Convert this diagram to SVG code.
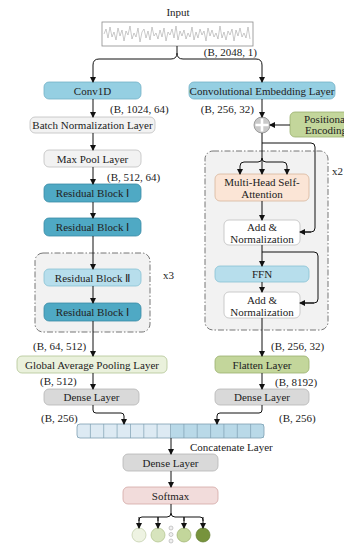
<svg xmlns="http://www.w3.org/2000/svg" width="344" height="544" viewBox="0 0 344 544">
<defs>
<marker id="ah" markerWidth="6" markerHeight="6" refX="5" refY="3" orient="auto" markerUnits="userSpaceOnUse"><path d="M0,0 L6,3 L0,6 Z" fill="#111"/></marker>
<style>
text{font-family:"Liberation Serif","Times New Roman",serif;font-size:11px;fill:#222}
.c{text-anchor:middle}
.e{text-anchor:end}
.n rect{stroke-width:0.8}
.blue{fill:#95CFE2;stroke:#74B1C7}
.light{fill:#F2F2F2;stroke:#BFBFBF}
.teal{fill:#4FA9C4;stroke:#3A8CA6}
.pale{fill:#B7DEEC;stroke:#88C1D4}
.gap{fill:#EAF1DC;stroke:#B3C596}
.green{fill:#C3D69B;stroke:#9AB06E}
.dense{fill:#D9D9D9;stroke:#B5B5B5}
.peach{fill:#FBE5D6;stroke:#D8B69C}
.white{fill:#FFFFFF;stroke:#BFBFBF}
.pink{fill:#F2DCDB;stroke:#D3A7A5}
.dash{fill:#F2F2F2;stroke:#666;stroke-width:0.9;stroke-dasharray:6 2 1.5 2}
#conn path,#conn line{fill:none;stroke:#111;stroke-width:1}
.arr{marker-end:url(#ah)}
</style>
</defs>
<rect width="344" height="544" fill="#fff"/>

<!-- dashed repeat boxes -->
<g id="repeat3"><rect class="dash" x="35" y="253" width="115" height="79" rx="8"/><text x="163" y="279">x3</text></g>
<g id="repeat2"><rect class="dash" x="205" y="151" width="123" height="179" rx="8"/><text x="332" y="175">x2</text></g>

<g id="input">
<text class="c" x="178" y="16">Input</text>
<rect x="102" y="22" width="151" height="24" fill="#fff" stroke="#8C8C8C" stroke-width="0.8"/>
<polyline fill="none" stroke="#A6A6A6" stroke-width="0.6" points="104,34 106,29 108,38 110,27 112,37 114,32 116,40 118,28 120,36 122,30 124,41 126,31 128,35 130,26 132,39 134,33 136,37 138,28 140,42 142,32 144,29 146,38 148,31 150,40 152,27 154,36 156,33 158,39 160,30 162,37 164,28 166,41 168,32 170,35 172,29 174,38 176,26 178,40 180,31 182,36 184,30 186,39 188,33 190,37 192,27 194,40 196,32 198,38 200,29 202,35 204,31 206,41 208,28 210,36 212,30 214,37 216,33 218,39 220,26 222,38 224,32 226,40 228,31 230,35 232,29 234,41 236,30 238,36 240,28 242,37 244,33 246,38 248,27 250,39"/>
</g>

<g id="conv1d" class="n"><rect class="blue" x="44" y="82" width="97" height="17" rx="5"/><text class="c" x="92.5" y="94.5">Conv1D</text></g>
<g id="convemb" class="n"><rect class="blue" x="189" y="82" width="146" height="17" rx="5"/><text class="c" x="262" y="94.5">Convolutional Embedding Layer</text></g>
<g id="bn" class="n"><rect class="light" x="30" y="117" width="125" height="16" rx="5"/><text class="c" x="92.5" y="129">Batch Normalization Layer</text></g>
<g id="maxpool" class="n"><rect class="light" x="44" y="150" width="97" height="17" rx="5"/><text class="c" x="92.5" y="162.5">Max Pool Layer</text></g>
<g id="rb1a" class="n"><rect class="teal" x="44" y="184" width="97" height="18" rx="5"/><text class="c" x="92.5" y="197">Residual Block Ⅰ</text></g>
<g id="rb1b" class="n"><rect class="teal" x="44" y="218" width="97" height="18" rx="5"/><text class="c" x="92.5" y="231">Residual Block Ⅰ</text></g>
<g id="rb2" class="n"><rect class="pale" x="44" y="269" width="97" height="17" rx="5"/><text class="c" x="92.5" y="281.5">Residual Block Ⅱ</text></g>
<g id="rb1c" class="n"><rect class="teal" x="44" y="303" width="97" height="18" rx="5"/><text class="c" x="92.5" y="316">Residual Block Ⅰ</text></g>
<g id="gap" class="n"><rect class="gap" x="17" y="356" width="150" height="17" rx="5"/><text class="c" x="92" y="368.5">Global Average Pooling Layer</text></g>
<g id="denseL" class="n"><rect class="dense" x="44" y="389" width="95" height="16" rx="5"/><text class="c" x="91.5" y="401">Dense Layer</text></g>

<g id="plus"><circle cx="262" cy="125" r="8" fill="#C9C9C9" stroke="#8C8C8C" stroke-width="0.8"/><path d="M262,118.5 V131.5 M255.5,125 H268.5" stroke="#fff" stroke-width="2.6"/></g>
<g id="posenc" class="n"><rect class="green" x="290" y="112" width="72" height="25" rx="5"/><text class="c" x="326" y="122.5">Positional</text><text class="c" x="326" y="134">Encoding</text></g>
<g id="mhsa" class="n"><rect class="peach" x="215" y="174" width="94" height="27" rx="5"/><text class="c" x="262" y="186">Multi-Head Self-</text><text class="c" x="262" y="198">Attention</text></g>
<g id="addnorm1" class="n"><rect class="white" x="224" y="220" width="76" height="25" rx="5"/><text class="c" x="262" y="231">Add &amp;</text><text class="c" x="262" y="243">Normalization</text></g>
<g id="ffn" class="n"><rect class="pale" x="215" y="266" width="94" height="16" rx="5"/><text class="c" x="262" y="278">FFN</text></g>
<g id="addnorm2" class="n"><rect class="white" x="224" y="292" width="76" height="26" rx="5"/><text class="c" x="262" y="304">Add &amp;</text><text class="c" x="262" y="316">Normalization</text></g>
<g id="flatten" class="n"><rect class="green" x="215" y="356" width="94" height="17" rx="5"/><text class="c" x="262" y="368.5">Flatten Layer</text></g>
<g id="denseR" class="n"><rect class="dense" x="215" y="389" width="94" height="16" rx="5"/><text class="c" x="262" y="401">Dense Layer</text></g>

<g id="concat">
<rect x="77" y="424" width="93.5" height="14" fill="#DDEAF3"/>
<rect x="170.5" y="424" width="93.5" height="14" fill="#B9D9E8"/>
<path d="M90.4,424V438M103.7,424V438M117.1,424V438M130.5,424V438M143.8,424V438M157.1,424V438M170.5,424V438M183.9,424V438M197.2,424V438M210.6,424V438M223.9,424V438M237.3,424V438M250.6,424V438" stroke="#7E9FB1" stroke-width="0.7"/>
<rect x="77" y="424" width="187" height="14" rx="3" fill="none" stroke="#7E9FB1" stroke-width="0.8"/>
<text x="190" y="451">Concatenate Layer</text>
</g>
<g id="dense3" class="n"><rect class="dense" x="123" y="454" width="95" height="17" rx="5"/><text class="c" x="170.5" y="466.5">Dense Layer</text></g>
<g id="softmax" class="n"><rect class="pink" x="123" y="487" width="95" height="17" rx="5"/><text class="c" x="170.5" y="499.5">Softmax</text></g>
<g id="outputs">
<circle cx="139" cy="535" r="7" fill="#EEF3E2" stroke="#BFCBA6" stroke-width="0.7"/>
<circle cx="158" cy="535" r="7" fill="#D7E4BD" stroke="#AFC28A" stroke-width="0.7"/>
<circle cx="184" cy="535" r="7" fill="#C3D69B" stroke="#9DB26E" stroke-width="0.7"/>
<circle cx="203" cy="535" r="7" fill="#77933C" stroke="#5E7A2C" stroke-width="0.7"/>
<circle cx="171" cy="528" r="2" fill="#F0F0F0" stroke="#AAA" stroke-width="0.6"/>
<circle cx="171" cy="534.5" r="2" fill="#F0F0F0" stroke="#AAA" stroke-width="0.6"/>
<circle cx="171" cy="541" r="2" fill="#F0F0F0" stroke="#AAA" stroke-width="0.6"/>
</g>

<g id="labels">
<text class="e" x="257" y="56">(B, 2048, 1)</text>
<text x="110" y="113">(B, 1024, 64)</text>
<text class="e" x="254" y="113">(B, 256, 32)</text>
<text x="107" y="181">(B, 512, 64)</text>
<text x="33" y="350">(B, 64, 512)</text>
<text x="40" y="385">(B, 512)</text>
<text x="41" y="422">(B, 256)</text>
<text x="279" y="422">(B, 256)</text>
<text x="271" y="350">(B, 256, 32)</text>
<text x="275" y="386">(B, 8192)</text>
</g>

<g id="conn">
<path class="arr" d="M177,46 V53 Q177,59 171,59 H99 Q93,59 93,65 V82"/>
<path class="arr" d="M177,53 Q177,59 183,59 H256 Q262,59 262,65 V82"/>
<line class="arr" x1="93" y1="99" x2="93" y2="117"/>
<line class="arr" x1="93" y1="133" x2="93" y2="150"/>
<line class="arr" x1="93" y1="167" x2="93" y2="184"/>
<line class="arr" x1="93" y1="202" x2="93" y2="218"/>
<line class="arr" x1="93" y1="236" x2="93" y2="269"/>
<line class="arr" x1="93" y1="286" x2="93" y2="303"/>
<line class="arr" x1="93" y1="321" x2="93" y2="356"/>
<line class="arr" x1="93" y1="373" x2="93" y2="389"/>
<path class="arr" d="M93,405 V410 Q93,413 96,413 H121 Q124,413 124,416 V424"/>
<line class="arr" x1="262" y1="99" x2="262" y2="117"/>
<line class="arr" x1="290" y1="125" x2="270" y2="125"/>
<path d="M262,133 V158 M262,143 H311 Q315,143 315,147 V228 Q315,232 311,232 H301"/>
<path class="arr" d="M311,232 H300"/>
<path class="arr" d="M262,158 Q262,162 258,162 H244 Q240,162 240,166 V174"/>
<path class="arr" d="M262,158 Q262,162 266,162 H283 Q287,162 287,166 V174"/>
<line class="arr" x1="262" y1="158" x2="262" y2="174"/>
<line class="arr" x1="262" y1="201" x2="262" y2="220"/>
<line class="arr" x1="262" y1="245" x2="262" y2="266"/>
<path d="M262,252 H314 Q318,252 318,256 V299 Q318,303 314,303 H301"/>
<path class="arr" d="M314,303 H300"/>
<line class="arr" x1="262" y1="282" x2="262" y2="292"/>
<line class="arr" x1="262" y1="318" x2="262" y2="356"/>
<line class="arr" x1="262" y1="373" x2="262" y2="389"/>
<path class="arr" d="M262,405 V410 Q262,413 259,413 H220 Q217,413 217,416 V424"/>
<line class="arr" x1="171" y1="438" x2="171" y2="454"/>
<line class="arr" x1="171" y1="471" x2="171" y2="487"/>
<path d="M171,504 V513 Q171,517 167,517 H142 Q139,517 139,520 V521 M171,513 Q171,517 175,517 H200 Q203,517 203,520 V521 M158,517 V521 M184,517 V521"/>
<line class="arr" x1="139" y1="517" x2="139" y2="528"/>
<line class="arr" x1="158" y1="517" x2="158" y2="528"/>
<line class="arr" x1="184" y1="517" x2="184" y2="528"/>
<line class="arr" x1="203" y1="517" x2="203" y2="528"/>
</g>
</svg>
